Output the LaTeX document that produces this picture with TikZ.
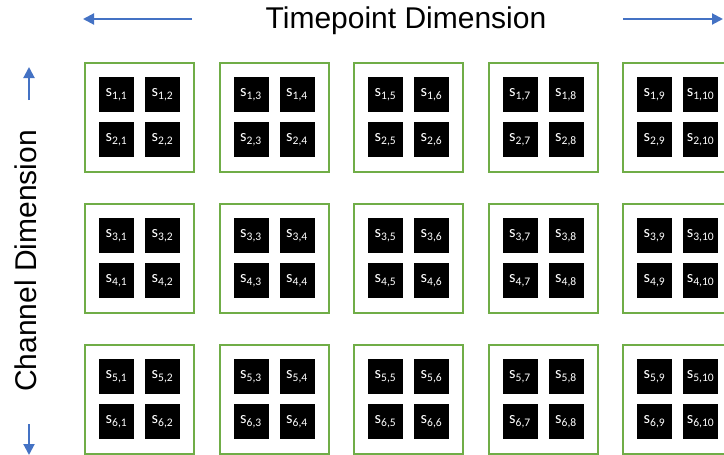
\documentclass[tikz,border=0pt]{standalone}
\usepackage{fontspec}
\setmainfont{Liberation Sans}
\newfontfamily\cellfont{Carlito}
\usetikzlibrary{arrows.meta}
\definecolor{TPGreen}{HTML}{70AD47}
\definecolor{TPBlue}{HTML}{4472C4}
\tikzset{
  tpgroup/.style={
    draw=TPGreen,
    line width=2pt,
    fill=white,
    minimum size=109pt,
    inner sep=0pt
  },
  tpcell/.style={
    fill=black,
    minimum size=35pt,
    inner sep=0pt,
    text=white,
    font=\cellfont\fontsize{16.5}{16.5}\selectfont
  },
  tpaxis/.style={-{Triangle[length=11pt,width=11pt]},draw=TPBlue,line width=2pt},
  tptitle/.style={font=\fontsize{30}{30}\selectfont,inner sep=0pt}
}

\begin{document}
\begin{tikzpicture}[x=1pt,y=-1pt]
  \useasboundingbox (0,0) rectangle (724,455);

  % axis titles
  \node[tptitle,anchor=base] (timetitle) at (406,28) {Timepoint Dimension};
  \node[tptitle,anchor=base,rotate=90] (chantitle) at (37,261) {Channel Dimension};

  % axis arrows
  \coordinate (left-a) at (192,19);
  \coordinate (left-b) at (83,19);
  \coordinate (right-a) at (623,19);
  \coordinate (right-b) at (723,19);
  \coordinate (up-a) at (29,100);
  \coordinate (up-b) at (29,67);
  \coordinate (down-a) at (29,424);
  \coordinate (down-b) at (29,455);
  \draw[tpaxis] (left-a) -- (left-b);
  \draw[tpaxis] (right-a) -- (right-b);
  \draw[tpaxis] (up-a) -- (up-b);
  \draw[tpaxis] (down-a) -- (down-b);

  % groups of 2x2 samples
  \foreach \i in {0,...,4}
    \foreach \j in {0,...,2} {
      \pgfmathtruncatemacro\ca{2*\i+1}
      \pgfmathtruncatemacro\cb{2*\i+2}
      \pgfmathtruncatemacro\ra{2*\j+1}
      \pgfmathtruncatemacro\rb{2*\j+2}
      \node[tpgroup] (g-\j-\i) at ({139.5+134.5*\i},{117.5+141*\j}) {};
      \node[tpcell] (s-\ra-\ca) at ([shift={(-23,-23)}]g-\j-\i.center) {s\textsubscript{\ra,\ca}};
      \node[tpcell] (s-\ra-\cb) at ([shift={(23,-23)}]g-\j-\i.center) {s\textsubscript{\ra,\cb}};
      \node[tpcell] (s-\rb-\ca) at ([shift={(-23,22)}]g-\j-\i.center) {s\textsubscript{\rb,\ca}};
      \node[tpcell] (s-\rb-\cb) at ([shift={(23,22)}]g-\j-\i.center) {s\textsubscript{\rb,\cb}};
    }
\end{tikzpicture}
\end{document}
